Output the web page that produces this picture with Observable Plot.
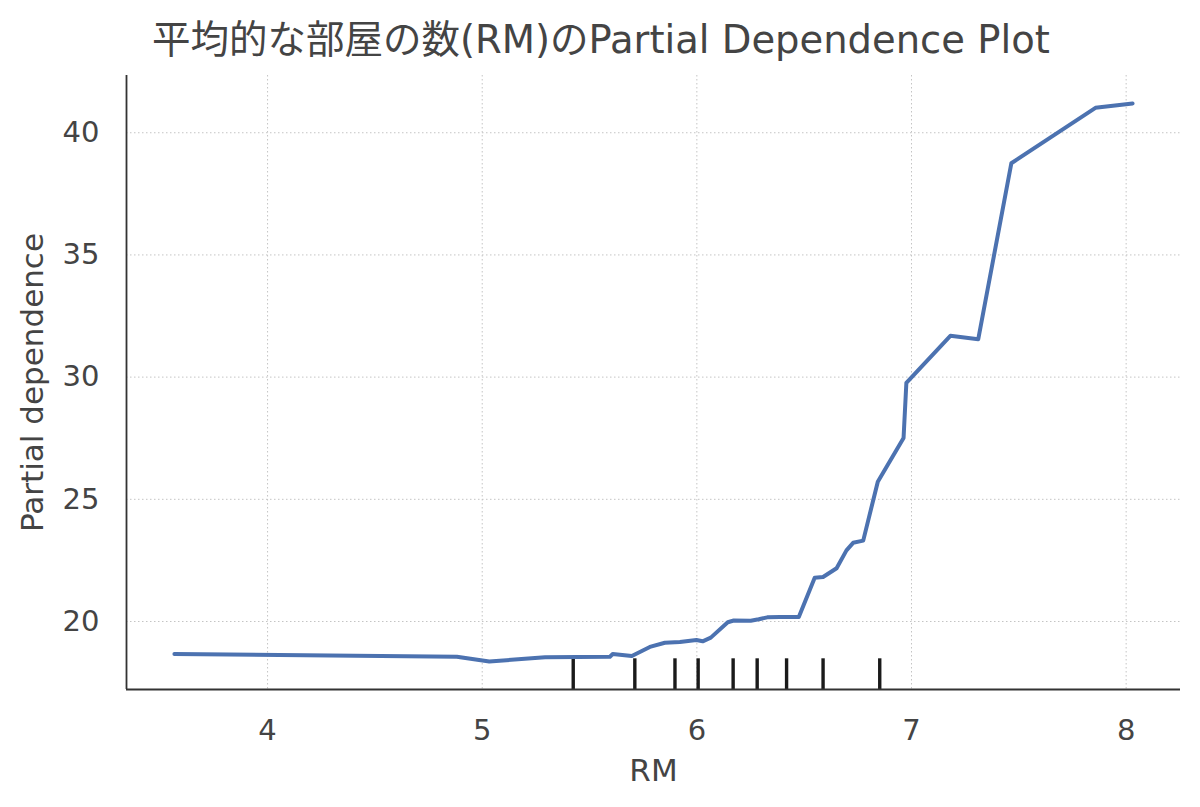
<!DOCTYPE html>
<html>
<head>
<meta charset="utf-8">
<script src="https://cdn.jsdelivr.net/npm/d3@7"></script>
<script src="https://cdn.jsdelivr.net/npm/@observablehq/plot@0.6"></script>
<style>
  html, body { margin: 0; padding: 0; background: #fff; }
  #wrap { width: 1200px; height: 807px; position: relative; overflow: hidden; }
  #title { height: 70px; box-sizing: border-box; padding-left: 152px; padding-top: 19px;
    font-family: "DejaVu Sans", "Noto Sans CJK JP", sans-serif; font-size: 38.5px; color: #444; white-space: nowrap; line-height: 1.1; }
</style>
</head>
<body>
<div id="wrap">
  <div id="title">平均的な部屋の数(RM)のPartial Dependence Plot</div>
  <div id="chart"></div>
</div>
<script>
const rmGrid = [3.566, 4.882, 5.033, 5.293, 5.595, 5.608, 5.697, 5.781, 5.851, 5.921, 5.998, 6.027, 6.065, 6.144, 6.172, 6.251, 6.288, 6.328, 6.386, 6.475, 6.549, 6.588, 6.651, 6.697, 6.728, 6.775, 6.843, 6.963, 6.976, 7.181, 7.311, 7.465, 7.857, 8.030];
const partialDependence = [18.67, 18.56, 18.36, 18.54, 18.56, 18.67, 18.59, 18.96, 19.13, 19.16, 19.24, 19.19, 19.34, 19.97, 20.04, 20.03, 20.09, 20.17, 20.18, 20.18, 21.79, 21.82, 22.18, 22.91, 23.22, 23.31, 25.72, 27.51, 29.76, 31.69, 31.55, 38.75, 41.02, 41.20];
const deciles = [5.424, 5.711, 5.898, 6.006, 6.169, 6.281, 6.418, 6.588, 6.852];
const xTicks = [4, 5, 6, 7, 8];
const yTicks = [20, 25, 30, 35, 40];

const rows = rmGrid.map((x, i) => ({x, y: partialDependence[i]}));

// matplotlib-style 5% margins
const xr = d3.extent(rmGrid), yr = d3.extent(partialDependence);
const xPad = (xr[1] - xr[0]) * 0.05, yPad = (yr[1] - yr[0]) * 0.05;
const xDomain = [xr[0] - xPad, xr[1] + xPad];
const yDomain = [yr[0] - yPad, yr[1] + yPad];
const rugTop = yDomain[0] + (yDomain[1] - yDomain[0]) * 0.05;

const font = '"DejaVu Sans", "Noto Sans CJK JP", sans-serif';

const chart = Plot.plot({
  width: 1200,
  height: 737,
  marginTop: 5,
  marginBottom: 118,
  marginLeft: 126,
  marginRight: 20,
  style: {fontFamily: font, color: "#444", background: "#fff"},
  x: {domain: xDomain, ticks: xTicks, tickFormat: d3.format("d")},
  y: {domain: yDomain, ticks: yTicks, tickFormat: d3.format("d")},
  marks: [
    Plot.gridX(xTicks, {stroke: "#c4c4c4", strokeOpacity: 1, strokeDasharray: "1.5,2.5", strokeWidth: 1}),
    Plot.gridY(yTicks, {stroke: "#c4c4c4", strokeOpacity: 1, strokeDasharray: "1.5,2.5", strokeWidth: 1}),
    Plot.axisX(xTicks, {tickSize: 0, tickPadding: 30, tickFormat: d3.format("d"), fill: "#444",
      label: "RM", labelAnchor: "center", labelArrow: "none", labelOffset: 91}),
    Plot.axisY(yTicks, {tickSize: 0, tickPadding: 27, tickFormat: d3.format("d"), fill: "#444",
      label: "Partial dependence", labelAnchor: "center", labelArrow: "none", labelOffset: 106}),
    Plot.ruleX(deciles, {x: d => d, y1: yDomain[0], y2: rugTop, stroke: "#1a1a1a", strokeWidth: 3.4}),
    Plot.line(rows, {x: "x", y: "y", stroke: "#4c72b0", strokeWidth: 4, strokeLinejoin: "round", strokeLinecap: "round"}),
    Plot.ruleX([xDomain[0]], {stroke: "#333", strokeWidth: 1.8}),
    Plot.ruleY([yDomain[0]], {stroke: "#333", strokeWidth: 1.8})
  ]
});
function setSize(sel, size) {
  chart.querySelectorAll(sel).forEach(g => {
    g.setAttribute("font-size", size);
    g.style.fontSize = size + "px";
    g.querySelectorAll("text").forEach(t => { t.setAttribute("font-size", size); t.style.fontSize = size + "px"; });
  });
}
setSize('[aria-label="x-axis tick label"]', 29);
setSize('[aria-label="y-axis tick label"]', 29);
setSize('[aria-label="x-axis label"]', 31);
setSize('[aria-label="y-axis label"]', 31);
document.getElementById("chart").appendChild(chart);
</script>
</body>
</html>
